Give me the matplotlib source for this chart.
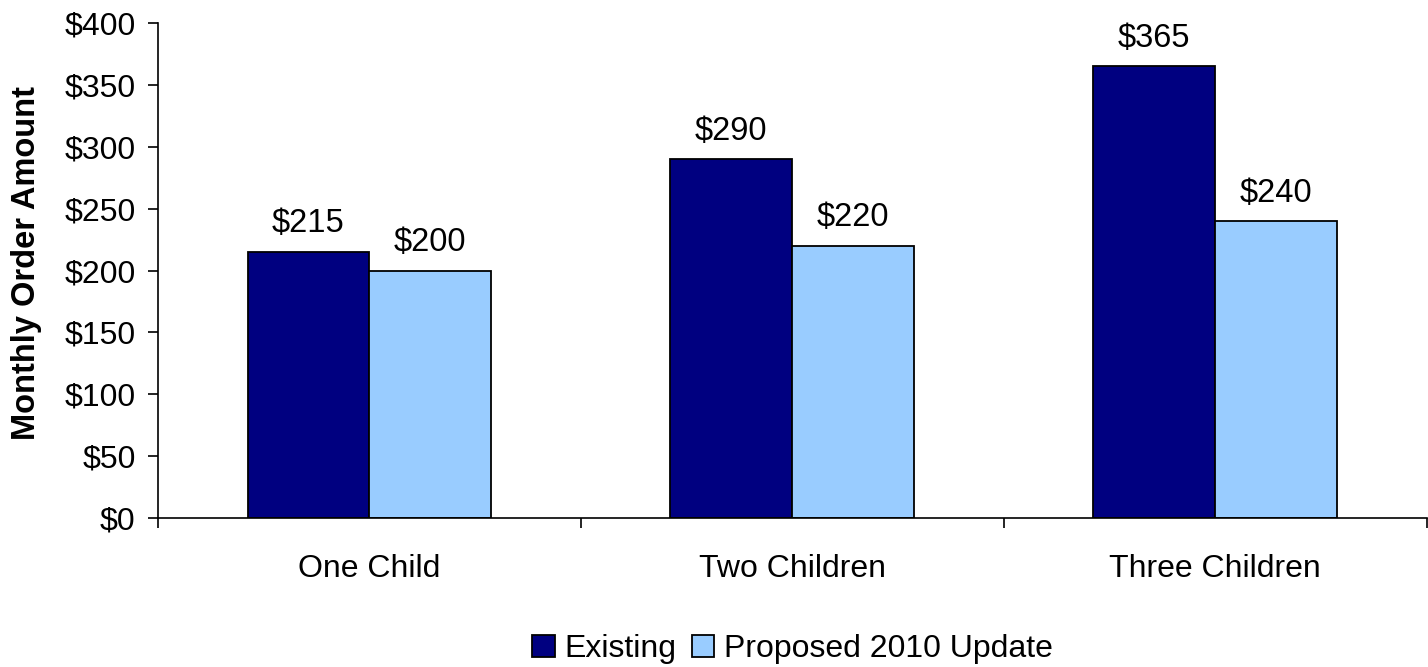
import matplotlib.pyplot as plt
import numpy as np

plt.rcParams['font.family'] = ['Liberation Sans', 'DejaVu Sans']

categories = ['One Child', 'Two Children', 'Three Children']
existing = [215, 290, 365]
proposed = [200, 220, 240]
series_names = ['Existing', 'Proposed 2010 Update']
y_ticks = [0, 50, 100, 150, 200, 250, 300, 350, 400]

fig = plt.figure(figsize=(14.28, 6.67), dpi=100)
ax = fig.add_axes([0.1106, 0.2234, 0.8884, 0.7421])

x = np.arange(len(categories))
w = 0.288
b1 = ax.bar(x - w / 2, existing, w, color='#000080', edgecolor='black', linewidth=1.3, label=series_names[0])
b2 = ax.bar(x + w / 2, proposed, w, color='#99CCFF', edgecolor='black', linewidth=1.3, label=series_names[1])

for bars in (b1, b2):
    for r in bars:
        h = r.get_height()
        ax.annotate(f'${h:.0f}', (r.get_x() + r.get_width() / 2, h),
                    xytext=(0, 9), textcoords='offset points',
                    ha='center', va='bottom', fontsize=23.5)

ax.set_xlim(-0.5, len(categories) - 0.5)
ax.set_ylim(0, 400)
ax.set_yticks(y_ticks)
ax.set_yticklabels([f'${v}' for v in y_ticks])
ax.set_xticks(np.arange(len(categories) + 1) - 0.5)
ax.set_xticklabels([])
ax.set_xticks(x, minor=True)
ax.set_xticklabels(categories, minor=True)
ax.tick_params(axis='x', which='minor', length=0, pad=26, labelsize=23)
ax.tick_params(axis='x', which='major', length=7, width=1.2, direction='out')
ax.tick_params(axis='y', length=7, width=1.2, direction='out', labelsize=23, pad=9)

for s in ('top', 'right'):
    ax.spines[s].set_visible(False)
for s in ('left', 'bottom'):
    ax.spines[s].set_linewidth(1.2)

ax.set_ylabel('Monthly Order Amount', fontsize=23.5, fontweight='bold')
ax.yaxis.set_label_coords(-0.0915, 0.516)

fig.legend(loc='center', bbox_to_anchor=(0.555, 0.027), ncol=2, frameon=False,
           fontsize=23, handlelength=0.7, handleheight=0.7, handletextpad=0.3,
           columnspacing=0.5)

plt.savefig('out.png', dpi=100)
plt.close()
